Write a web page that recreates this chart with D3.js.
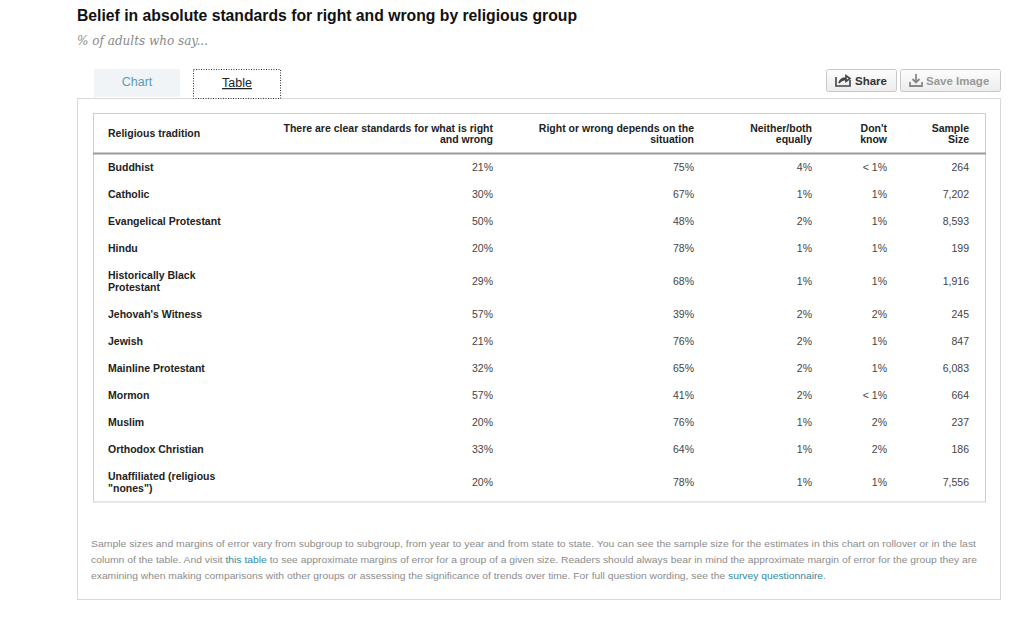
<!DOCTYPE html>
<html>
<head>
<meta charset="utf-8">
<script src="https://cdn.jsdelivr.net/npm/d3@7"></script>
<style>
  body { margin: 0; background: #fff; }
  svg { display: block; }
</style>
</head>
<body>
<div id="my_table"></div>
<script>
// table data
var groups = ["Buddhist", "Catholic", "Evangelical Protestant", "Hindu", "Historically Black Protestant",
  "Jehovah's Witness", "Jewish", "Mainline Protestant", "Mormon", "Muslim", "Orthodox Christian",
  "Unaffiliated (religious \"nones\")"];
var clearStandards = [21, 30, 50, 20, 29, 57, 21, 32, 57, 20, 33, 20];
var dependsOnSituation = [75, 67, 48, 78, 68, 39, 76, 65, 41, 76, 64, 78];
var neitherBoth = [4, 1, 2, 1, 1, 2, 2, 2, 2, 1, 1, 1];
var dontKnow = ["< 1", 1, 1, 1, 1, 2, 1, 1, "< 1", 2, 2, 1];
var sampleSize = [264, 7202, 8593, 199, 1916, 245, 847, 6083, 664, 237, 186, 7556];

var columnLabels = [
  ["Religious tradition"],
  ["There are clear standards for what is right", "and wrong"],
  ["Right or wrong depends on the", "situation"],
  ["Neither/both", "equally"],
  ["Don't", "know"],
  ["Sample", "Size"]
];

var noteLines = [
  [["Sample sizes and margins of error vary from subgroup to subgroup, from year to year and from state to state. You can see the sample size for the estimates in this chart on rollover or in the last", false]],
  [["column of the table. And visit ", false], ["this table", true], [" to see approximate margins of error for a group of a given size. Readers should always bear in mind the approximate margin of error for the group they are", false]],
  [["examining when making comparisons with other groups or assessing the significance of trends over time. For full question wording, see the ", false], ["survey questionnaire", true], [".", false]]
];
var noteWidths = [885, 886, 735];

var width = 1024, height = 618;
var font = "'Liberation Sans', Arial, sans-serif";

var svg = d3.select("#my_table").append("svg")
  .attr("width", width)
  .attr("height", height);

// title + subtitle
svg.append("text")
  .attr("x", 77).attr("y", 21)
  .attr("textLength", 500).attr("lengthAdjust", "spacingAndGlyphs")
  .style("font", "bold 16px " + font)
  .attr("fill", "#111")
  .text("Belief in absolute standards for right and wrong by religious group");

svg.append("text")
  .attr("x", 77).attr("y", 45)
  .style("font", "italic 12.5px 'DejaVu Serif', Georgia, serif")
  .attr("textLength", 131).attr("lengthAdjust", "spacingAndGlyphs")
  .attr("fill", "#8a8a8a")
  .text("% of adults who say...");

// outer box
svg.append("rect")
  .attr("x", 77.5).attr("y", 98.5).attr("width", 923).attr("height", 501)
  .attr("fill", "#fff").attr("stroke", "#d9d9d9");

// tabs
svg.append("rect")
  .attr("x", 94).attr("y", 69).attr("width", 86).attr("height", 28)
  .attr("fill", "#f1f4f6");
svg.append("text")
  .attr("x", 137).attr("y", 86).attr("text-anchor", "middle")
  .style("font", "12.5px " + font).attr("fill", "#5b9cb4")
  .text("Chart");

svg.append("rect")
  .attr("x", 193.5).attr("y", 69.5).attr("width", 87).attr("height", 29)
  .attr("fill", "#fff").attr("stroke", "#333").attr("stroke-dasharray", "1,1.5");
svg.append("text")
  .attr("x", 237).attr("y", 87).attr("text-anchor", "middle")
  .style("font", "12.5px " + font).style("text-decoration", "underline").attr("fill", "#222")
  .text("Table");

// buttons
var grad = svg.append("defs").append("linearGradient")
  .attr("id", "btn").attr("x1", 0).attr("y1", 0).attr("x2", 0).attr("y2", 1);
grad.append("stop").attr("offset", "0%").attr("stop-color", "#fdfdfd");
grad.append("stop").attr("offset", "100%").attr("stop-color", "#ececec");

var buttons = [
  { x: 826, w: 70, label: "Share", color: "#333", icon: "share" },
  { x: 900, w: 100, label: "Save Image", color: "#999", icon: "save" }
];
var btn = svg.selectAll(".btn").data(buttons).enter().append("g")
  .attr("transform", function(d) { return "translate(" + d.x + ",69)"; });
btn.append("rect")
  .attr("x", 0.5).attr("y", 0.5).attr("width", function(d) { return d.w; }).attr("height", 22)
  .attr("rx", 2).attr("fill", "url(#btn)").attr("stroke", "#c8c8c8");
btn.append("text")
  .attr("x", function(d) { return d.icon === "share" ? 29 : 26; }).attr("y", 15.5)
  .style("font", "bold 11.5px " + font)
  .attr("fill", function(d) { return d.color; })
  .text(function(d) { return d.label; });
// share icon: box with arrow
btn.filter(function(d) { return d.icon === "share"; }).append("path")
  .attr("d", "M10,8 L10,17 L24,17 L24,11 M13,14 C14,10 17,9 20,9 L20,6.5 L24,9.5 L20,12.5 L20,10.5 C17,10.5 15,11.5 13,14 Z")
  .attr("fill", "none").attr("stroke", "#444").attr("stroke-width", 1.6);
// save icon: down arrow into tray
btn.filter(function(d) { return d.icon === "save"; }).append("path")
  .attr("d", "M16,5 L16,13 M12.5,10 L16,13.5 L19.5,10 M10,13 L10,17 L22,17 L22,13")
  .attr("fill", "none").attr("stroke", "#888").attr("stroke-width", 1.8);

// table layout
var tableX0 = 93, tableX1 = 985, tableTop = 113, headerBottom = 153.5;
var lineH = 12, rowPad = 15;
var colRight = d3.scaleOrdinal().domain(d3.range(6)).range([108, 493, 694, 812, 887, 969]);

var labelFont = "bold 10.5px " + font;
var numFont = "10.5px " + font;

// wrap row labels to fit the first column
var measure = svg.append("text").style("font", labelFont).attr("visibility", "hidden");
function wrap(str, maxW) {
  var words = str.split(" "), lines = [], cur = "";
  words.forEach(function(w) {
    var t = cur ? cur + " " + w : w;
    measure.text(t);
    if (measure.node().getComputedTextLength() > maxW && cur) { lines.push(cur); cur = w; }
    else cur = t;
  });
  lines.push(cur);
  return lines;
}

var pct = function(v) { return v + "%"; };
var rows = groups.map(function(g, i) {
  return {
    lines: wrap(g, 128),
    cells: [pct(clearStandards[i]), pct(dependsOnSituation[i]), pct(neitherBoth[i]),
            pct(dontKnow[i]), d3.format(",")(sampleSize[i])]
  };
});
measure.remove();

// cumulative row positions
var y = headerBottom;
rows.forEach(function(r) {
  r.h = rowPad + r.lines.length * lineH;
  r.y0 = y;
  r.cy = y + r.h / 2;
  y += r.h;
});
var tableBottom = y;

svg.append("rect")
  .attr("x", tableX0 + 0.5).attr("y", tableTop + 0.5)
  .attr("width", tableX1 - tableX0).attr("height", tableBottom - tableTop)
  .attr("fill", "none").attr("stroke", "#cfcfcf");

svg.append("line")
  .attr("x1", tableX0).attr("x2", tableX1 + 1)
  .attr("y1", headerBottom).attr("y2", headerBottom)
  .attr("stroke", "#9a9a9a").attr("stroke-width", 2);

// header cells
var headerCy = (tableTop + headerBottom) / 2 + 0.5;
svg.selectAll(".head").data(columnLabels).enter().append("text")
  .attr("class", "head")
  .attr("text-anchor", function(d, i) { return i === 0 ? "start" : "end"; })
  .style("font", "bold 10.5px " + font)
  .attr("fill", "#222")
  .each(function(lines, i) {
    var el = d3.select(this);
    var start = headerCy - (lines.length - 1) * 11.5 / 2 + 3.5;
    lines.forEach(function(l, k) {
      el.append("tspan")
        .attr("x", colRight(i))
        .attr("y", start + k * 11.5)
        .text(l);
    });
  });

// body rows
var rowG = svg.selectAll(".row").data(rows).enter().append("g").attr("class", "row");

rowG.append("text")
  .style("font", labelFont).attr("fill", "#222")
  .each(function(r) {
    var el = d3.select(this);
    var start = r.cy - (r.lines.length - 1) * lineH / 2 + 4;
    r.lines.forEach(function(l, k) {
      el.append("tspan").attr("x", colRight(0)).attr("y", start + k * lineH).text(l);
    });
  });

rowG.selectAll(".cell").data(function(r) { return r.cells.map(function(c) { return { v: c, cy: r.cy }; }); })
  .enter().append("text")
  .attr("class", "cell")
  .attr("x", function(d, j) { return colRight(j + 1); })
  .attr("y", function(d) { return d.cy + 4; })
  .attr("text-anchor", "end")
  .style("font", numFont).attr("fill", "#444")
  .text(function(d) { return d.v; });

// notes
svg.selectAll(".note").data(noteLines).enter().append("text")
  .attr("class", "note")
  .attr("x", 91)
  .attr("y", function(d, i) { return 547 + i * 16; })
  .attr("textLength", function(d, i) { return noteWidths[i]; })
  .attr("lengthAdjust", "spacingAndGlyphs")
  .style("font", "8.8px " + font)
  .each(function(parts) {
    var el = d3.select(this);
    parts.forEach(function(p) {
      el.append("tspan").attr("fill", p[1] ? "#2f8aa6" : "#8c8c8c").text(p[0]);
    });
  });
</script>
</body>
</html>
